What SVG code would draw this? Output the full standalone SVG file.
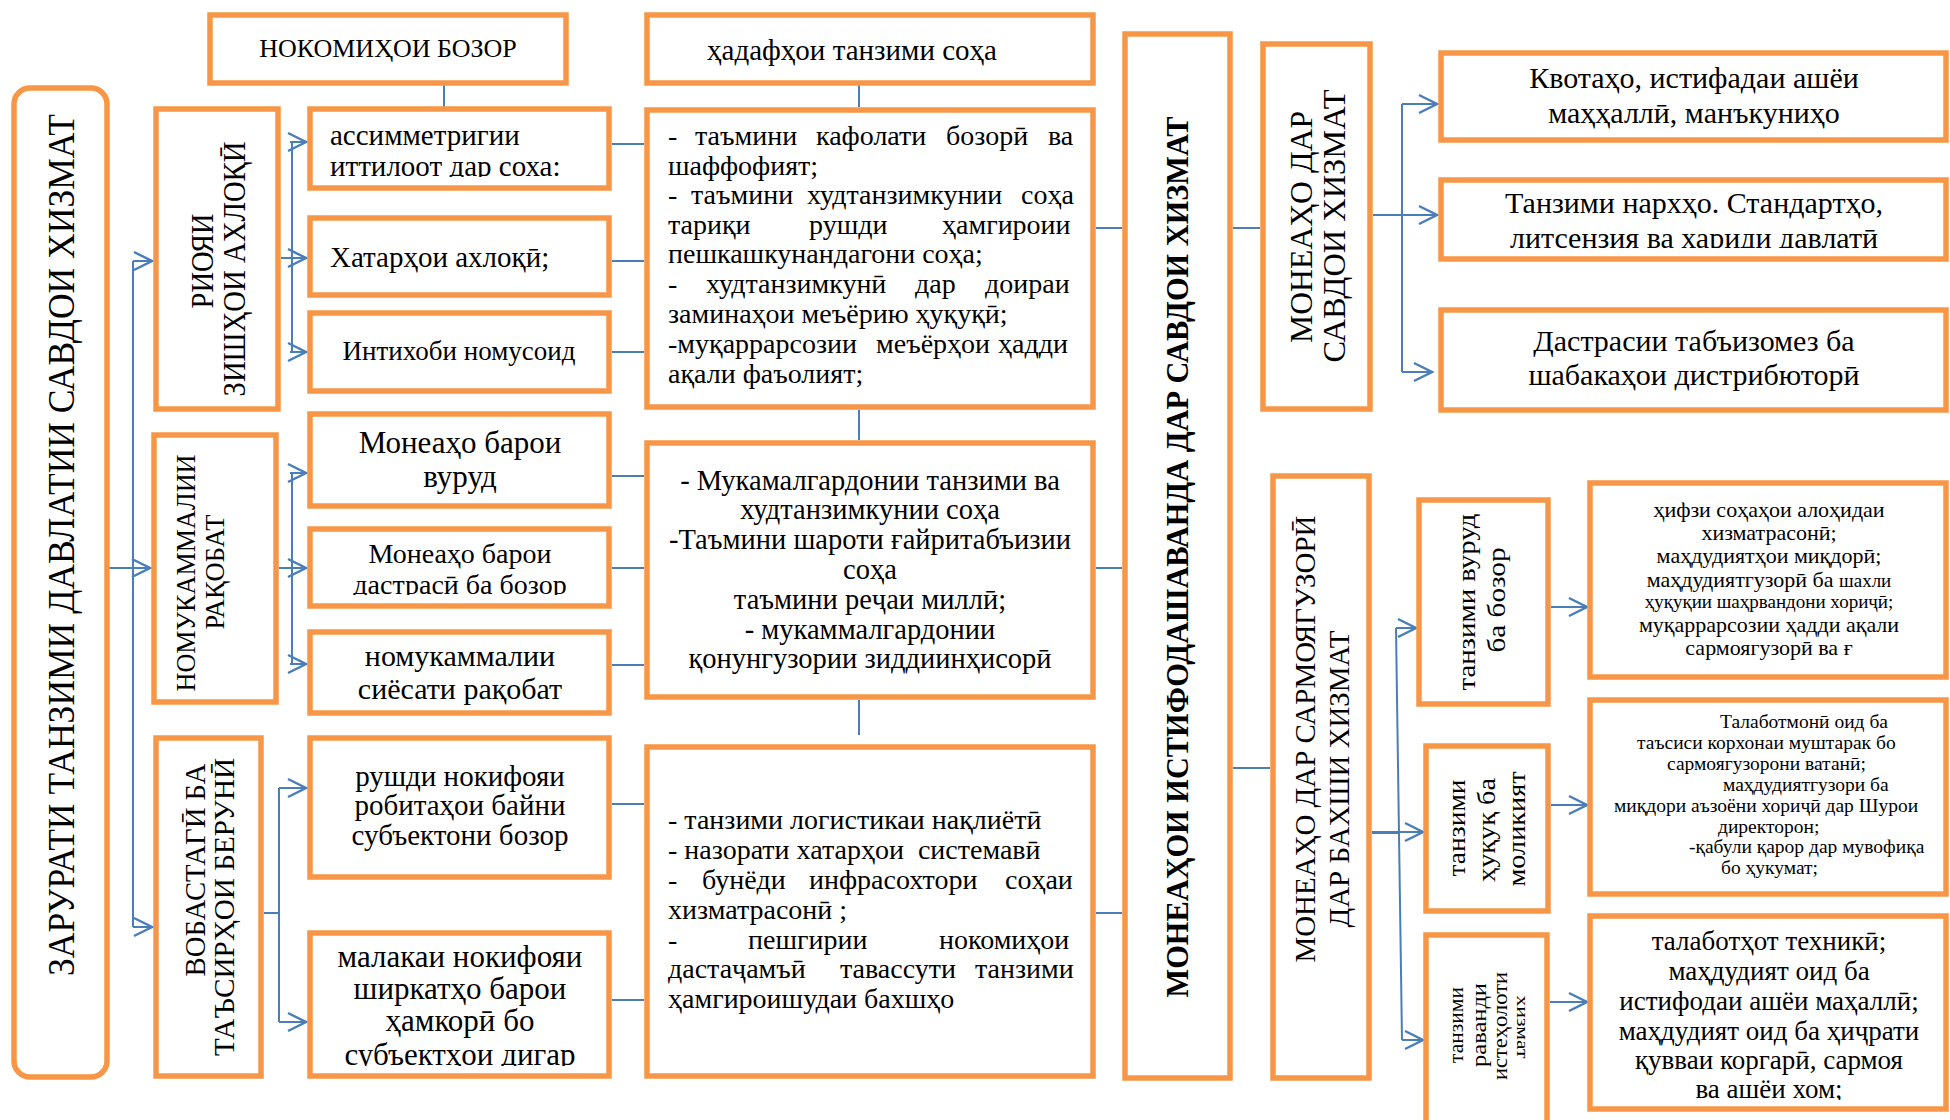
<svg xmlns="http://www.w3.org/2000/svg" width="1950" height="1120" viewBox="0 0 1950 1120">
<style>
.box{fill:#fff;stroke:#F79646;stroke-width:5.5}
.ln{fill:none;stroke:#4A7EBB;stroke-width:2}
.ar{fill:none;stroke:#4A7EBB;stroke-width:2;marker-end:url(#ah)}
text{font-family:"Liberation Serif","Times New Roman",serif;fill:#000}
.c{text-anchor:middle}
.e{text-anchor:end}
.b{font-weight:bold}
</style>
<defs>
<marker id="ah" markerUnits="userSpaceOnUse" markerWidth="24" markerHeight="24" refX="20" refY="10" orient="auto" viewBox="0 0 24 20">
<path d="M2,1 L20,10 L2,19" fill="none" stroke="#4A7EBB" stroke-width="2.5"/>
</marker>
<clipPath id="cpAssim"><rect x="310" y="109" width="299" height="68"/></clipPath>
<clipPath id="cpDastr"><rect x="310" y="529" width="299" height="66"/></clipPath>
<clipPath id="cpMalak"><rect x="310" y="933" width="299" height="133"/></clipPath>
<clipPath id="cpR2"><rect x="1441" y="180" width="505" height="68"/></clipPath>
<clipPath id="cpT3"><rect x="1590" y="916" width="356" height="184"/></clipPath>
</defs>

<g id="connectors">
<path class="ln" d="M109,568 H133 M133,261 V927"/>
<path class="ar" d="M133,261 H152"/>
<path class="ar" d="M133,568 H150"/>
<path class="ar" d="M133,927 H152"/>
<path class="ln" d="M292,142 V352 M281,258 H292"/>
<path class="ar" d="M290,142 H306"/>
<path class="ar" d="M281,258 H306"/>
<path class="ar" d="M290,352 H306"/>
<path class="ln" d="M292,473 V664 M279,568 H292"/>
<path class="ar" d="M290,473 H306"/>
<path class="ar" d="M279,568 H306"/>
<path class="ar" d="M290,664 H306"/>
<path class="ln" d="M264,913 H279 M279,788 V1022"/>
<path class="ar" d="M279,788 H306"/>
<path class="ar" d="M279,1022 H306"/>
<path class="ln" d="M444,85 V107 M859,85 V107 M859,410 V440 M859,700 V735"/>
<path class="ln" d="M612,144 H644 M612,261 H644 M612,352 H644 M612,476 H644 M612,568 H644 M612,665 H644 M612,804 H644 M612,1000 H644"/>
<path class="ln" d="M1096,228 H1122 M1096,568 H1122 M1096,913 H1122"/>
<path class="ln" d="M1233,228 H1260 M1233,768 H1270"/>
<path class="ln" d="M1402,104 V372"/>
<path class="ar" d="M1373,215 H1437"/>
<path class="ar" d="M1402,104 H1437"/>
<path class="ar" d="M1402,372 H1432"/>
<path class="ln" d="M1372,833 H1399 M1396,628 L1402,1040"/>
<path class="ar" d="M1396,628 H1416"/>
<path class="ar" d="M1372,832 H1423"/>
<path class="ar" d="M1402,1040 H1423"/>
<path class="ar" d="M1551,607 H1587"/>
<path class="ar" d="M1551,805 H1587"/>
<path class="ar" d="M1550,1002 H1587"/>
</g>

<g id="n-zarurat">
<rect class="box" x="14" y="88" width="93" height="989" rx="16"/>
<text class="c" font-size="37" textLength="862" lengthAdjust="spacingAndGlyphs" transform="translate(74,545) rotate(-90)">ЗАРУРАТИ ТАНЗИМИ ДАВЛАТИИ САВДОИ ХИЗМАТ</text>
</g>

<g id="n-nokomiho">
<rect class="box" x="210" y="15" width="356" height="68"/>
<text class="c" x="388" y="57" font-size="26">НОКОМИҲОИ БОЗОР</text>
</g>

<g id="n-hadafho">
<rect class="box" x="647" y="15" width="446" height="68"/>
<text class="c" x="852" y="60" font-size="29">ҳадафҳои танзими соҳа</text>
</g>

<g id="n-riyoi">
<rect class="box" x="156" y="109" width="122" height="300"/>
<text class="c" font-size="31" textLength="95" lengthAdjust="spacingAndGlyphs" transform="translate(213,261) rotate(-90)">РИОЯИ</text>
<text class="c" font-size="31" textLength="255" lengthAdjust="spacingAndGlyphs" transform="translate(245,269) rotate(-90)">ЗИШҲОИ АХЛОҚӢ</text>
</g>

<g id="n-nomukammalii">
<rect class="box" x="154" y="435" width="122" height="267"/>
<text class="c" font-size="28" textLength="237" lengthAdjust="spacingAndGlyphs" transform="translate(195,573) rotate(-90)">НОМУКАММАЛИИ</text>
<text class="c" font-size="28" textLength="115" lengthAdjust="spacingAndGlyphs" transform="translate(224,572) rotate(-90)">РАҚОБАТ</text>
</g>

<g id="n-vobastagi">
<rect class="box" x="156" y="738" width="105" height="338"/>
<text class="c" font-size="30" textLength="213" lengthAdjust="spacingAndGlyphs" transform="translate(205,870) rotate(-90)">ВОБАСТАГӢ БА</text>
<text class="c" font-size="30" textLength="298" lengthAdjust="spacingAndGlyphs" transform="translate(234,907) rotate(-90)">ТАЪСИРҲОИ БЕРУНӢ</text>
</g>

<g id="n-assim">
<rect class="box" x="310" y="109" width="299" height="79"/>
<g clip-path="url(#cpAssim)">
<text x="330" y="145" font-size="29">ассимметригии</text>
<text x="330" y="176" font-size="29">иттилоот дар соха:</text>
</g>
</g>

<g id="n-hatar">
<rect class="box" x="310" y="218" width="299" height="77"/>
<text x="330" y="267" font-size="29">Хатарҳои ахлоқӣ;</text>
</g>

<g id="n-intihob">
<rect class="box" x="310" y="313" width="299" height="78"/>
<text class="c" x="459" y="360" font-size="27">Интихоби номусоид</text>
</g>

<g id="n-vurud">
<rect class="box" x="310" y="414" width="299" height="92"/>
<text class="c" x="460" y="453" font-size="31">Монеаҳо барои</text>
<text class="c" x="460" y="487" font-size="31">вуруд</text>
</g>

<g id="n-dastrasi">
<rect class="box" x="310" y="529" width="299" height="77"/>
<g clip-path="url(#cpDastr)">
<text class="c" x="460" y="563" font-size="28">Монеаҳо барои</text>
<text class="c" x="460" y="594" font-size="28">дастрасӣ ба бозор</text>
</g>
</g>

<g id="n-siyosat">
<rect class="box" x="310" y="632" width="299" height="81"/>
<text class="c" x="460" y="666" font-size="30">номукаммалии</text>
<text class="c" x="460" y="699" font-size="30">сиёсати рақобат</text>
</g>

<g id="n-rushd">
<rect class="box" x="310" y="738" width="299" height="139"/>
<text class="c" x="460" y="786" font-size="29">рушди нокифояи</text>
<text class="c" x="460" y="815" font-size="29">робитаҳои байни</text>
<text class="c" x="460" y="845" font-size="29">субъектони бозор</text>
</g>

<g id="n-malaka">
<rect class="box" x="310" y="933" width="299" height="143"/>
<g clip-path="url(#cpMalak)">
<text class="c" x="460" y="967" font-size="31">малакаи нокифояи</text>
<text class="c" x="460" y="999" font-size="31">ширкатҳо барои</text>
<text class="c" x="460" y="1031" font-size="31">ҳамкорӣ бо</text>
<text class="c" x="460" y="1065" font-size="31">субъектҳои дигар</text>
</g>
</g>

<g id="n-goals-a" font-size="28">
<rect class="box" x="647" y="110" width="446" height="297"/>
<text y="145"><tspan x="668">-</tspan><tspan x="695">таъмини</tspan><tspan x="816">кафолати</tspan><tspan x="946">бозорӣ</tspan><tspan x="1048">ва</tspan></text>
<text x="668" y="175">шаффофият;</text>
<text y="204"><tspan x="668">-</tspan><tspan x="691">таъмини</tspan><tspan x="807">худтанзимкунии</tspan><tspan x="1021">соҳа</tspan></text>
<text y="234"><tspan x="668">тариқи</tspan><tspan x="809">рушди</tspan><tspan x="942">ҳамгироии</tspan></text>
<text x="668" y="263">пешкашкунандагони соҳа;</text>
<text y="293"><tspan x="668">-</tspan><tspan x="706">худтанзимкунӣ</tspan><tspan x="915">дар</tspan><tspan x="985">доираи</tspan></text>
<text x="668" y="323">заминаҳои меъёрию ҳуқуқӣ;</text>
<text y="353"><tspan x="668">-муқаррарсозии</tspan><tspan x="876">меъёрҳои</tspan><tspan x="998">ҳадди</tspan></text>
<text x="668" y="383">ақали фаъолият;</text>
</g>

<g id="n-goals-b" font-size="28.5">
<rect class="box" x="647" y="443" width="446" height="254"/>
<text class="c" x="870" y="490">- Мукамалгардонии танзими ва</text>
<text class="c" x="870" y="519">худтанзимкунии соҳа</text>
<text class="c" x="870" y="549">-Таъмини шароти ғайритабъизии</text>
<text class="c" x="870" y="579">соҳа</text>
<text class="c" x="870" y="609">таъмини реҷаи миллӣ;</text>
<text class="c" x="870" y="639">- мукаммалгардонии</text>
<text class="c" x="870" y="668">қонунгузории зиддиинҳисорӣ</text>
</g>

<g id="n-goals-c" font-size="28">
<rect class="box" x="647" y="747" width="446" height="329"/>
<text x="668" y="829">- танзими логистикаи нақлиётӣ</text>
<text x="668" y="859" xml:space="preserve">- назорати хатарҳои  системавӣ</text>
<text y="889"><tspan x="668">-</tspan><tspan x="702">бунёди</tspan><tspan x="809">инфрасохтори</tspan><tspan x="1005">соҳаи</tspan></text>
<text x="668" y="919">хизматрасонӣ ;</text>
<text y="949"><tspan x="668">-</tspan><tspan x="748">пешгирии</tspan><tspan x="939">нокомиҳои</tspan></text>
<text y="978"><tspan x="668">дастаҷамъӣ</tspan><tspan x="840">тавассути</tspan><tspan x="975">танзими</tspan></text>
<text x="668" y="1008">ҳамгироишудаи бахшҳо</text>
</g>

<g id="n-moneahoi-istifoda">
<rect class="box" x="1125" y="34" width="105" height="1044"/>
<text class="c b" font-size="31" textLength="881" lengthAdjust="spacingAndGlyphs" transform="translate(1188,557) rotate(-90)">МОНЕАҲОИ ИСТИФОДАШАВАНДА ДАР САВДОИ ХИЗМАТ</text>
</g>

<g id="n-moneaho-savdo">
<rect class="box" x="1263" y="44" width="107" height="365"/>
<text class="c" font-size="32" textLength="232" lengthAdjust="spacingAndGlyphs" transform="translate(1312,227) rotate(-90)">МОНЕАҲО ДАР</text>
<text class="c" font-size="32" textLength="273" lengthAdjust="spacingAndGlyphs" transform="translate(1345,226) rotate(-90)">САВДОИ ХИЗМАТ</text>
</g>

<g id="n-moneaho-sarmoya">
<rect class="box" x="1273" y="476" width="96" height="602"/>
<text class="c" font-size="29" textLength="447" lengthAdjust="spacingAndGlyphs" transform="translate(1315,739) rotate(-90)">МОНЕАҲО ДАР САРМОЯГУЗОРӢ</text>
<text class="c" font-size="29" textLength="297" lengthAdjust="spacingAndGlyphs" transform="translate(1349,779) rotate(-90)">ДАР БАХШИ ХИЗМАТ</text>
</g>

<g id="n-kvota">
<rect class="box" x="1441" y="53" width="505" height="87"/>
<text class="c" x="1694" y="88" font-size="30">Квотаҳо, истифадаи ашёи</text>
<text class="c" x="1694" y="123" font-size="30">маҳҳаллӣ, манъкуниҳо</text>
</g>

<g id="n-narkh">
<rect class="box" x="1441" y="180" width="505" height="79"/>
<g clip-path="url(#cpR2)">
<text class="c" x="1694" y="213" font-size="30">Танзими нархҳо. Стандартҳо,</text>
<text class="c" x="1694" y="248" font-size="30">литсензия ва хариди давлатӣ</text>
</g>
</g>

<g id="n-dastrasii">
<rect class="box" x="1441" y="310" width="505" height="100"/>
<text class="c" x="1694" y="351" font-size="30">Дастрасии табъизомез ба</text>
<text class="c" x="1694" y="385" font-size="30">шабакаҳои дистрибюторӣ</text>
</g>

<g id="n-vurud-bozor">
<rect class="box" x="1419" y="500" width="129" height="204"/>
<text class="c" font-size="26" textLength="177" lengthAdjust="spacingAndGlyphs" transform="translate(1475,602) rotate(-90)">танзими вуруд</text>
<text class="c" font-size="26" textLength="105" lengthAdjust="spacingAndGlyphs" transform="translate(1505,600) rotate(-90)">ба бозор</text>
</g>

<g id="n-huquq">
<rect class="box" x="1426" y="746" width="122" height="165"/>
<text class="c" font-size="26" textLength="97" lengthAdjust="spacingAndGlyphs" transform="translate(1465,828) rotate(-90)">танзими</text>
<text class="c" font-size="26" textLength="104" lengthAdjust="spacingAndGlyphs" transform="translate(1495,830) rotate(-90)">ҳуқуқ ба</text>
<text class="c" font-size="26" textLength="115" lengthAdjust="spacingAndGlyphs" transform="translate(1525,829) rotate(-90)">моликият</text>
</g>

<g id="n-ravand">
<rect class="box" x="1426" y="935" width="121" height="192"/>
<text class="c" font-size="21" textLength="76" lengthAdjust="spacingAndGlyphs" transform="translate(1463,1025) rotate(-90)">танзими</text>
<text class="c" font-size="21" textLength="84" lengthAdjust="spacingAndGlyphs" transform="translate(1486,1025) rotate(-90)">раванди</text>
<text class="c" font-size="21" textLength="108" lengthAdjust="spacingAndGlyphs" transform="translate(1507,1026) rotate(-90)">истеҳолоти</text>
<text class="c" font-size="17" textLength="63" lengthAdjust="spacingAndGlyphs" transform="translate(1517,1027) rotate(90)">хизмат</text>
</g>

<g id="n-hifz">
<rect class="box" x="1590" y="483" width="356" height="194"/>
<text class="c" x="1769" y="517" font-size="22">ҳифзи соҳаҳои алоҳидаи</text>
<text class="c" x="1769" y="540" font-size="22">хизматрасонӣ;</text>
<text class="c" x="1769" y="563" font-size="22">маҳдудиятҳои миқдорӣ;</text>
<text class="c" x="1769" y="587" font-size="22">маҳдудиятгузорӣ ба <tspan font-size="19">шахли</tspan></text>
<text class="c" x="1769" y="608" font-size="19">ҳуқуқии шаҳрвандони хориҷӣ;</text>
<text class="c" x="1769" y="632" font-size="22">муқаррарсозии ҳадди ақали</text>
<text class="c" x="1769" y="655" font-size="22">сармоягузорӣ ва ғ</text>
</g>

<g id="n-talabotmoni" font-size="19.5">
<rect class="box" x="1590" y="700" width="356" height="194"/>
<text x="1720" y="728">Талаботмонӣ оид ба</text>
<text x="1637" y="749">таъсиси корхонаи муштарак бо</text>
<text x="1667" y="770">сармоягузорони ватанӣ;</text>
<text x="1723" y="791">маҳдудиятгузори ба</text>
<text x="1614" y="812">миқдори аъзоёни хориҷӣ дар Шурои</text>
<text x="1718" y="833">директорон;</text>
<text x="1689" y="853">-қабули қарор дар мувофиқа</text>
<text x="1721" y="874">бо ҳукумат;</text>
</g>

<g id="n-talabotho">
<rect class="box" x="1590" y="916" width="356" height="193"/>
<g clip-path="url(#cpT3)" font-size="27">
<text class="c" x="1769" y="950">талаботҳот техникӣ;</text>
<text class="c" x="1769" y="980">маҳдудият оид ба</text>
<text class="c" x="1769" y="1010">истифодаи ашёи маҳаллӣ;</text>
<text class="c" x="1769" y="1040">маҳдудият оид ба ҳиҷрати</text>
<text class="c" x="1769" y="1069">қувваи коргарӣ, сармоя</text>
<text class="c" x="1769" y="1098">ва ашёи хом;</text>
</g>
</g>
</svg>
